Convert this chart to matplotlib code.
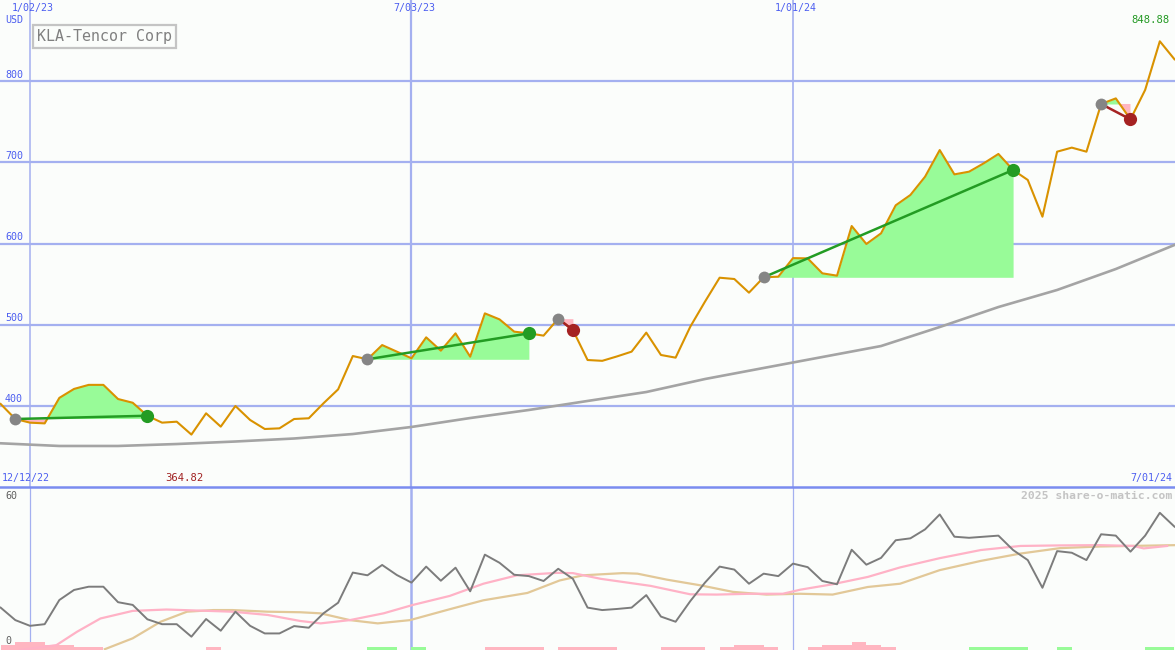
import matplotlib
matplotlib.use("Agg")
import matplotlib.pyplot as plt
import numpy as np

# ---------------- data ----------------
weeks = list(range(-2, 79))  # week index, 0 = 1/02/23
price = [402.5, 384.0, 379.5, 378.6, 410.0, 421.0, 426.0, 426.0, 408.6, 404.0,
         388.0, 379.5, 380.7, 364.82, 391.0, 374.6, 400.0, 382.8, 371.7, 372.5,
         384.0, 384.9, 403.3, 420.5, 461.5, 457.5, 475.0, 466.9, 458.7, 484.5,
         468.1, 489.4, 460.7, 514.0, 506.6, 491.5, 489.4, 486.6, 507.5, 493.5,
         456.6, 455.6, 461.0, 466.9, 490.3, 462.8, 459.5, 497.6, 528.4, 557.9,
         556.3, 539.5, 558.4, 559.2, 582.0, 581.7, 563.3, 560.4, 621.5, 599.4,
         612.5, 647.0, 659.7, 682.2, 715.0, 685.1, 688.4, 698.7, 710.2, 690.5,
         678.2, 633.0, 713.0, 718.0, 713.0, 771.7, 778.6, 752.8, 789.0, 848.88,
         826.7]

ma_weeks = [-2, 2, 6, 10, 14, 18, 22, 26, 30, 34, 38, 42, 46, 50, 54, 58, 62, 66, 70, 74, 78]
ma_vals = [354.1, 350.8, 350.8, 353.2, 356.3, 360.0, 365.5, 374.2, 385.2, 395.1, 406.2,
           417.2, 433.2, 446.8, 460.3, 473.8, 497.2, 521.8, 542.8, 568.6, 598.2]

trend_start = [-1, 23, 36, 50, 73]
trend_end = [8, 34, 37, 67, 75]

osc = [15.6, 11.0, 8.9, 9.5, 18.4, 22.1, 23.3, 23.3, 17.6, 16.6,
       11.3, 9.5, 9.5, 4.9, 11.4, 7.1, 14.1, 8.9, 6.1, 6.1,
       8.8, 8.2, 13.5, 17.4, 28.5, 27.5, 31.3, 27.6, 24.8, 30.7,
       25.5, 30.3, 21.6, 35.1, 32.1, 27.7, 27.2, 25.4, 29.9, 26.2,
       15.6, 14.7, 15.1, 15.6, 20.2, 12.3, 10.4, 18.0, 24.8, 30.7,
       29.6, 24.4, 28.1, 27.2, 31.8, 30.5, 25.4, 24.2, 36.9, 31.4,
       33.9, 40.4, 41.1, 44.4, 49.9, 41.7, 41.3, 41.7, 42.1, 36.8,
       33.1, 22.9, 36.4, 35.8, 33.1, 42.6, 42.1, 36.2, 42.1, 50.5,
       45.4]

pink_weeks = [-0.7, 1.8, 3.2, 4.8, 7.0, 9.3, 13.8, 16.2, 18.4, 19.8, 21.8, 24.1, 26.1,
              28.6, 30.9, 33.2, 35.9, 37.0, 38.9, 42.3, 45.0, 46.8, 49.1, 51.3, 52.5,
              54.7, 57.1, 59.3, 62.0, 64.8, 67.5, 70.2, 72.9, 75.2, 75.9, 77.5]
pink_vals = [0.0, 1.8, 6.7, 11.6, 14.4, 14.9, 14.1, 12.9, 10.7, 9.8, 11.0, 13.5, 16.6,
             19.9, 24.4, 27.5, 28.4, 28.3, 26.2, 23.6, 20.5, 20.4, 20.7, 20.7, 22.2,
             24.2, 26.9, 30.4, 33.8, 36.8, 38.3, 38.5, 38.6, 38.3, 37.4, 38.3]

tan_weeks = [5.1, 7.0, 8.9, 10.7, 12.5, 13.8, 16.2, 18.4, 19.8, 21.8, 23.7, 25.9, 28.6,
             30.9, 33.9, 36.1, 37.7, 40.4, 41.4, 43.4, 45.7, 47.9, 50.2, 52.5, 54.7,
             57.1, 59.3, 62.0, 64.8, 67.5, 70.2, 72.9, 78.1]
tan_vals = [0.3, 4.3, 10.4, 14.1, 14.7, 14.7, 14.1, 13.9, 13.5, 11.0, 9.8, 11.0, 15.0,
            18.3, 21.0, 25.6, 27.5, 28.3, 28.1, 25.9, 23.8, 21.4, 20.4, 20.7, 20.4,
            23.2, 24.4, 29.4, 32.8, 35.5, 37.5, 38.1, 38.6]

neg_bar_weeks = [-2, -1, 0, 1, 2, 3, 4, 12, 31, 32, 33, 34, 36, 37, 38, 39, 43, 44, 45,
                 47, 48, 49, 50, 53, 54, 55, 56, 57, 58]
neg_bar_vals = [2, 3, 3, 2, 2, 1, 1, 1, 1, 1, 1, 1, 1, 1, 1, 1, 1, 1, 1,
                1, 2, 2, 1, 1, 2, 2, 3, 2, 1]
pos_bar_weeks = [23, 24, 26, 64, 65, 66, 67, 70, 76, 77]
pos_bar_vals = [1, 1, 1, 1, 1, 1, 1, 1, 1, 1]

price_ticks = [400, 500, 600, 700, 800]
date_ticks = [0, 26, 52]
date_labels = ["1/02/23", "7/03/23", "1/01/24"]
title = "KLA-Tencor Corp"

# ---------------- style ----------------
W, H = 1175, 650
BG = "#fbfdfb"
GRID = "#a4b0f0"
BLUE_TXT = "#4c5ef0"
ORANGE = "#d99200"
FILL_G = "#98fb98"
FILL_P = "#ffb6c1"
GREEN = "#239c23"
RED = "#a52222"
MONO = "DejaVu Sans Mono"

fig = plt.figure(figsize=(W / 100, H / 100), dpi=100, facecolor=BG)
split = 487
ax1 = fig.add_axes([0, (H - split) / H, 1, split / H])
ax2 = fig.add_axes([0, 0, 1, (H - split) / H])
for ax in (ax1, ax2):
    ax.set_facecolor(BG)
    ax.axis("off")

pxw = 14.673
x0 = 30.0
xlim = (-x0 / pxw, (W - x0) / pxw)
ppu = 0.8125
ylim1 = (800 - (split - 81) / ppu, 800 + 81 / ppu)
ax1.set_xlim(*xlim)
ax1.set_ylim(*ylim1)
ax2.set_xlim(*xlim)
ax2.set_ylim(0, 60)

# grid
for p in price_ticks:
    ax1.axhline(p, color=GRID, lw=1.6, zorder=1)
for d, lw in zip(date_ticks, [1.1, 1.6, 1.2]):
    ax1.axvline(d, color=GRID, lw=lw, zorder=1)
for d, lw in zip(date_ticks, [0.9, 1.8, 0.9]):
    ax2.axvline(d, color=GRID, lw=lw, zorder=1)

wk = np.array(weeks, dtype=float)
pr = np.array(price)

# trend fills and lines
for s, e in zip(trend_start, trend_end):
    i0, i1 = weeks.index(s), weeks.index(e)
    xs = wk[i0:i1 + 1]
    ys = pr[i0:i1 + 1]
    base = pr[i0]
    ax1.fill_between(xs, ys, base, where=ys >= base, interpolate=True,
                     color=FILL_G, lw=0, zorder=2)
    ax1.fill_between(xs, ys, base, where=ys <= base, interpolate=True,
                     color=FILL_P, lw=0, zorder=2)

ax1.plot(ma_weeks, ma_vals, color="#a4a4a4", lw=1.9, zorder=3)
ax1.plot(wk, pr, color=ORANGE, lw=1.5, zorder=4)

for s, e in zip(trend_start, trend_end):
    i0, i1 = weeks.index(s), weeks.index(e)
    c = GREEN if pr[i1] >= pr[i0] else RED
    ax1.plot([wk[i0], wk[i1]], [pr[i0], pr[i1]], color=c, lw=1.8, zorder=5)
    ax1.plot(wk[i0], pr[i0], "o", color="#858585", ms=8.5, mew=0, zorder=6)
    ax1.plot(wk[i1], pr[i1], "o", color=c, ms=9.5, mew=0, zorder=6)

# lower panel
ax2.bar(np.array(neg_bar_weeks) + 0.5, neg_bar_vals, width=1.0, color=FILL_P, lw=0, zorder=2)
ax2.bar(np.array(pos_bar_weeks) + 0.5, pos_bar_vals, width=1.0, color=FILL_G, lw=0, zorder=2)
ax2.plot(tan_weeks, tan_vals, color="#e2c898", lw=1.6, zorder=3)
ax2.plot(pink_weeks, pink_vals, color="#ffb2c6", lw=1.6, zorder=3)
ax2.plot(wk, osc, color="#7c7c7c", lw=1.4, zorder=4)

# separator
fig.add_artist(plt.Line2D([0, 1], [(H - split) / H] * 2, color="#7a8cf0", lw=1.8,
                          transform=fig.transFigure))


def ftext(x, y, s, **kw):
    fig.text(x / W, 1 - y / H, s, family=MONO, **kw)


# texts
ftext(5, 20, "USD", color=BLUE_TXT, fontsize=7.2, va="center", ha="left")
for p in price_ticks:
    ypix = 81 + (800 - p) * ppu
    ftext(5, ypix - 1.5, str(p), color=BLUE_TXT, fontsize=7.2, va="bottom", ha="left")
for d, lab in zip(date_ticks, date_labels):
    ftext(x0 + d * pxw + 3, 8, lab, color=BLUE_TXT, fontsize=7.2, va="center", ha="center")

ftext(1151, 20, f"{max(price):.2f}", color="#229922", fontsize=7.6, va="center", ha="center")
ftext(184, 478, f"{min(price):.2f}", color="#a02020", fontsize=7.6, va="center", ha="center")
ftext(2, 478, "12/12/22", color=BLUE_TXT, fontsize=7.2, va="center", ha="left")
ftext(1172, 478, "7/01/24", color=BLUE_TXT, fontsize=7.2, va="center", ha="right")
ftext(1172, 496, "2025 share-o-matic.com", color="#c4c4c4", fontsize=8.2,
      va="center", ha="right", fontweight="bold")
ftext(5, 496, "60", color="#606060", fontsize=7.2, va="center", ha="left")
ftext(5, 641, "0", color="#606060", fontsize=7.2, va="center", ha="left")

fig.text(37 / W, 1 - 36.5 / H, title, family=MONO, fontsize=10.8, color="#808080",
         va="center", ha="left",
         bbox=dict(boxstyle="square,pad=0.26", fc=BG, ec="#c4c4c4", lw=1.6))

fig.savefig("out.png", dpi=100, facecolor=BG)
